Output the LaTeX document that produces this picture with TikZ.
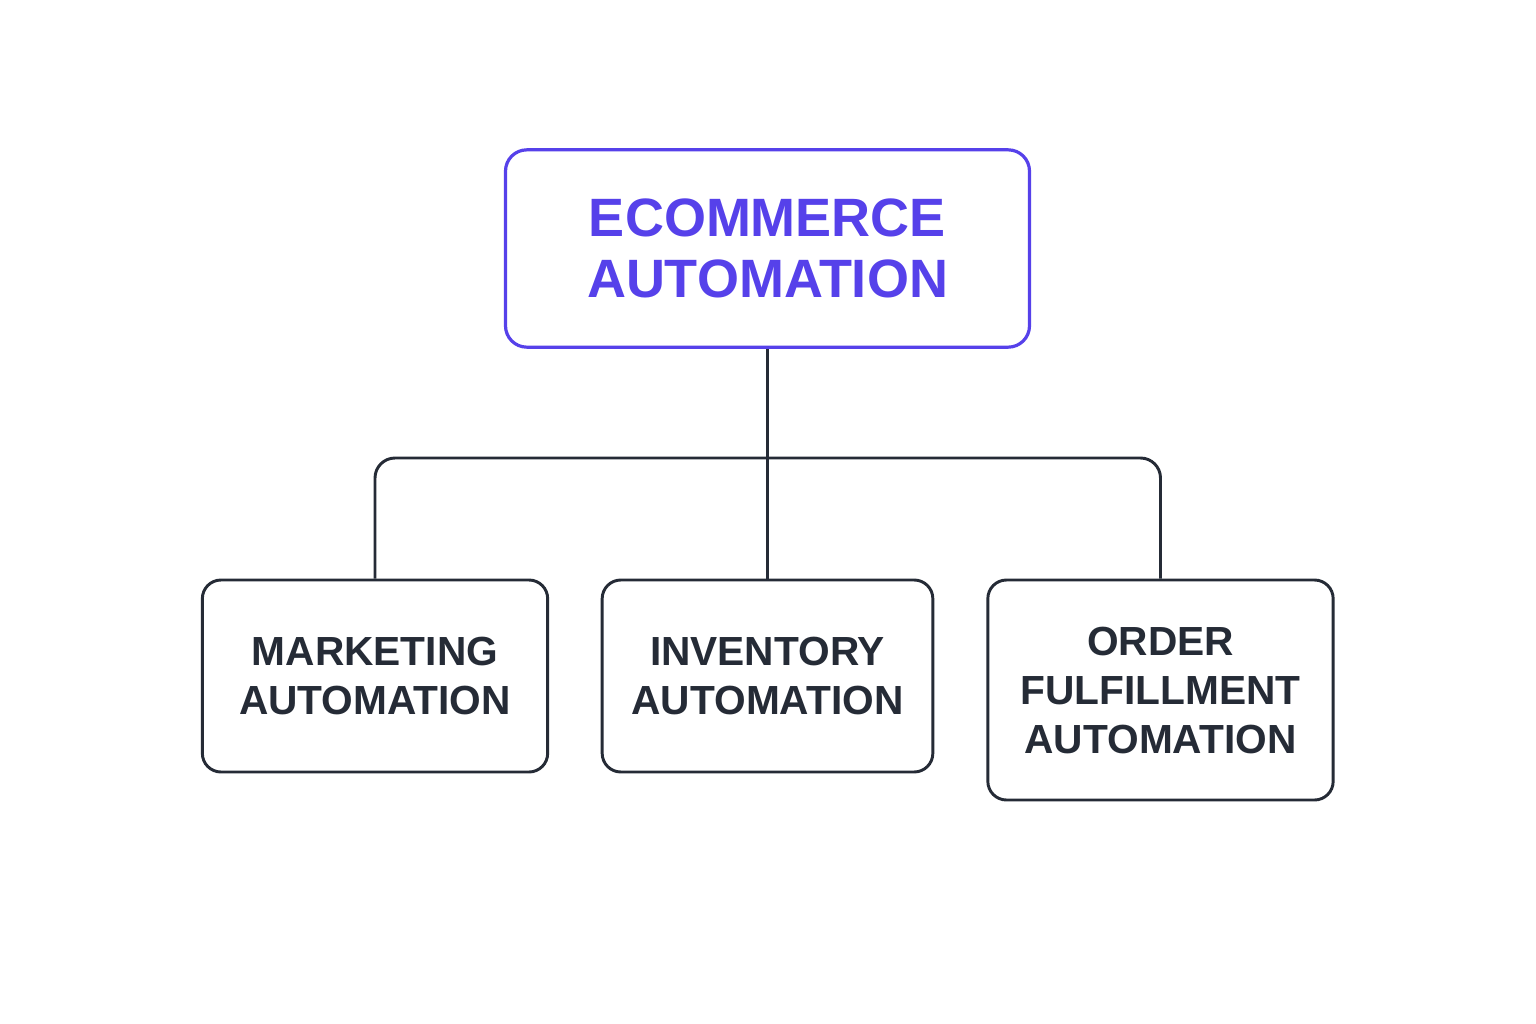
\documentclass[tikz,border=0pt]{standalone}
\usepackage{fontspec}
\setmainfont{Liberation Sans}
\definecolor{violetc}{HTML}{5641EA}
\definecolor{darkc}{HTML}{252B36}
\tikzset{
  topbox/.style={draw=violetc, line width=2.4pt, rounded corners=16pt, fill=white,
    minimum width=393pt, minimum height=148pt, align=center, text=violetc,
    font=\fontsize{40.5pt}{45.75pt}\selectfont\bfseries, inner sep=0pt},
  subbox/.style={draw=darkc, line width=2.2pt, rounded corners=14pt, fill=white,
    minimum height=144pt, align=center, text=darkc,
    font=\fontsize{30.5pt}{36.75pt}\selectfont\bfseries, inner sep=0pt},
  link/.style={draw=darkc, line width=2.2pt, rounded corners=15pt}
}
\begin{document}
\begin{tikzpicture}[x=0.75pt,y=-0.75pt]
\useasboundingbox[fill=white] (0,0) rectangle (1536,1024);
\node[topbox] (top) at (767.5,248.5) {ECOMMERCE\\AUTOMATION};
\node[subbox, minimum width=259pt] (mk) at (375,676) {MARKETING\\AUTOMATION};
\node[subbox, minimum width=248pt] (inv) at (767.5,676) {INVENTORY\\AUTOMATION};
\node[subbox, minimum width=259pt, minimum height=165pt] (ord) at (1160.5,690) {ORDER\\FULFILLMENT\\AUTOMATION};
\coordinate (j) at (767.5,458);
\draw[link] (top.south) -- (inv.north);
\draw[link] (j) -| (mk.north);
\draw[link] (j) -| (ord.north);
\end{tikzpicture}
\end{document}
